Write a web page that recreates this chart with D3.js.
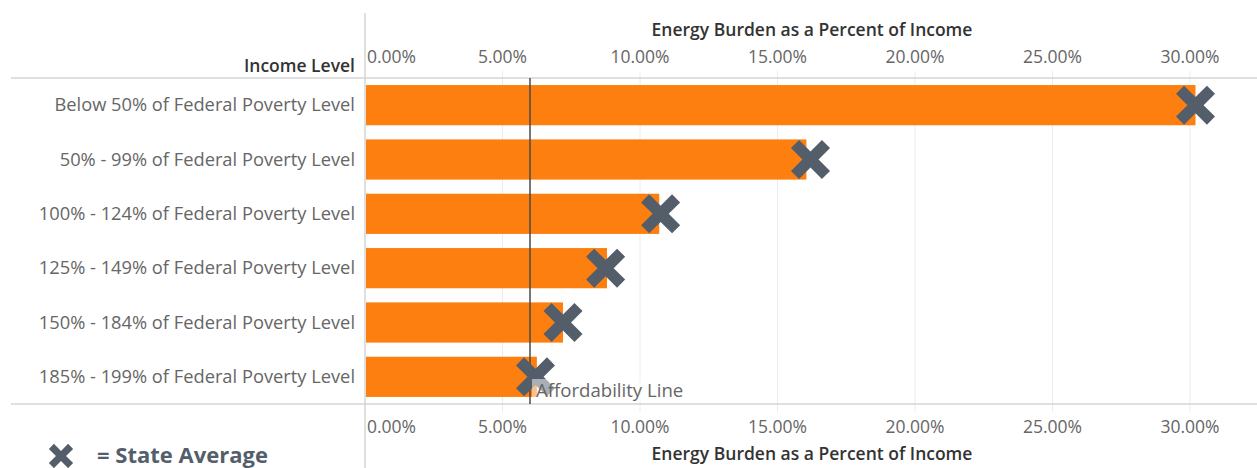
<!DOCTYPE html>
<html>
<head>
<meta charset="utf-8">
<script src="https://cdn.jsdelivr.net/npm/d3@7"></script>
<style>
  body { margin: 0; background: #fff; }
  text { font-family: "Open Sans", sans-serif; }
</style>
</head>
<body>
<svg id="chart" width="1257" height="468"></svg>
<script>
// data
const categories = [
  'Below 50% of Federal Poverty Level',
  '50% - 99% of Federal Poverty Level',
  '100% - 124% of Federal Poverty Level',
  '125% - 149% of Federal Poverty Level',
  '150% - 184% of Federal Poverty Level',
  '185% - 199% of Federal Poverty Level'
]
const burden = [30.2, 16.05, 10.7, 8.8, 7.2, 6.25]
const stateAverage = [30.2, 16.2, 10.75, 8.75, 7.2, 6.2]
const ticks = [0, 5, 10, 15, 20, 25, 30]
const affordability = 6

const width = 1257
const svg = d3.select('#chart')

const x = d3.scaleLinear().domain([0, 30]).range([365, 1190])
const y = d3.scaleBand().domain(categories).range([78, 404]).paddingInner(0.26).paddingOuter(0.13)

// thick x mark, drawn as a symbol type
const thickX = {
  draw(ctx, size) {
    const r = Math.sqrt(size) / 2
    const w = r * 0.3, a = r * 1.15
    const pts = [[w, w], [a, w], [a, -w], [w, -w], [w, -a], [-w, -a], [-w, -w], [-a, -w], [-a, w], [-w, w], [-w, a], [w, a]]
    const c = Math.SQRT1_2
    pts.forEach((p, i) => {
      const px = (p[0] - p[1]) * c, py = (p[0] + p[1]) * c
      if (i === 0) ctx.moveTo(px, py); else ctx.lineTo(px, py)
    })
    ctx.closePath()
  }
}

// gridlines
svg.append('g')
  .selectAll('line')
  .data(ticks.slice(1))
  .join('line')
    .attr('x1', d => x(d)).attr('x2', d => x(d))
    .attr('y1', 71).attr('y2', 412)
    .attr('stroke', '#ececec')
    .attr('stroke-width', 1)

// frame lines
svg.append('line').attr('x1', 11).attr('x2', width).attr('y1', 78).attr('y2', 78)
  .attr('stroke', '#d4d4d4').attr('stroke-width', 1.5)
svg.append('line').attr('x1', 11).attr('x2', width).attr('y1', 404).attr('y2', 404)
  .attr('stroke', '#d4d4d4').attr('stroke-width', 1.5)
svg.append('line').attr('x1', 365).attr('x2', 365).attr('y1', 13).attr('y2', 468)
  .attr('stroke', '#d4d4d4').attr('stroke-width', 1.5)

// bars
svg.append('g')
  .selectAll('rect')
  .data(categories)
  .join('rect')
    .attr('x', x(0) + 1)
    .attr('y', d => y(d))
    .attr('width', (d, i) => x(burden[i]) - x(0) - 1)
    .attr('height', y.bandwidth())
    .attr('fill', '#fd7f0f')

// affordability line
svg.append('line')
  .attr('x1', x(affordability)).attr('x2', x(affordability))
  .attr('y1', 78).attr('y2', 404)
  .attr('stroke', '#4a4a4a').attr('stroke-opacity', 0.75).attr('stroke-width', 2)

// state average marks
svg.append('g')
  .selectAll('path')
  .data(categories)
  .join('path')
    .attr('transform', (d, i) => `translate(${x(stateAverage[i])},${y(d) + y.bandwidth() / 2})`)
    .attr('d', d3.symbol().type(thickX).size(1450))
    .attr('fill', '#545e6b')

// affordability label
svg.append('rect')
  .attr('x', x(affordability) + 2).attr('y', 379)
  .attr('width', 162).attr('height', 23)
  .attr('fill', '#fff').attr('fill-opacity', 0.5)
svg.append('text')
  .attr('x', x(affordability) + 6).attr('y', 397)
  .attr('font-size', 18.6).attr('fill', '#666')
  .text('Affordability Line')

// category labels
svg.append('g')
  .selectAll('text')
  .data(categories)
  .join('text')
    .attr('x', 355)
    .attr('y', d => y(d) + y.bandwidth() / 2 + 6)
    .attr('text-anchor', 'end')
    .attr('font-size', 18.3)
    .attr('fill', '#666')
    .text(d => d)

svg.append('text')
  .attr('x', 355).attr('y', 72)
  .attr('text-anchor', 'end')
  .attr('font-size', 17.5).attr('font-weight', 600).attr('fill', '#333')
  .text('Income Level')

// axes labels (top and bottom)
const fmt = d => d.toFixed(2) + '%'
function tickLabels(yPos) {
  svg.append('g')
    .selectAll('text')
    .data(ticks)
    .join('text')
      .attr('x', d => d === 0 ? x(d) + 2 : x(d))
      .attr('y', yPos)
      .attr('text-anchor', d => d === 0 ? 'start' : 'middle')
      .attr('font-size', 17.5)
      .attr('fill', '#666')
      .text(fmt)
}
tickLabels(63)
tickLabels(433)

svg.append('text')
  .attr('x', 812).attr('y', 36)
  .attr('text-anchor', 'middle')
  .attr('font-size', 17.5).attr('font-weight', 600).attr('fill', '#333')
  .text('Energy Burden as a Percent of Income')
svg.append('text')
  .attr('x', 812).attr('y', 460)
  .attr('text-anchor', 'middle')
  .attr('font-size', 17.5).attr('font-weight', 600).attr('fill', '#333')
  .text('Energy Burden as a Percent of Income')

// legend
svg.append('path')
  .attr('transform', 'translate(61,456)')
  .attr('d', d3.symbol().type(thickX).size(560))
  .attr('fill', '#545e6b')
svg.append('text')
  .attr('x', 97).attr('y', 463)
  .attr('font-size', 22).attr('font-weight', 700).attr('fill', '#545e6b')
  .text('= State Average')
</script>
</body>
</html>
